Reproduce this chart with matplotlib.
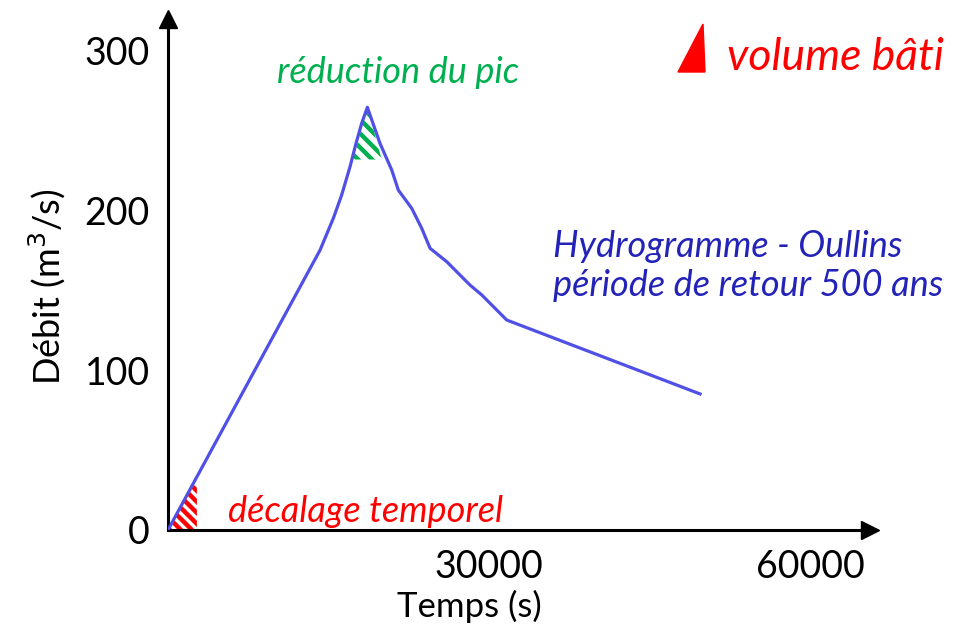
import matplotlib
matplotlib.use("Agg")
import matplotlib.pyplot as plt
import numpy as np
from matplotlib.patches import Polygon
from matplotlib.lines import Line2D
from matplotlib.transforms import IdentityTransform

plt.rcParams['font.family'] = ['Lato', 'DejaVu Sans']

# hydrogramme Oullins, T = 500 ans
temps = [0, 14210, 15450, 16230, 17010, 17570, 18100, 18630, 19810, 20910,
         21520, 22780, 23710, 24490, 26050, 28220, 29320, 31650, 49720]
debit = [0, 175.3, 195.2, 209.8, 227.5, 242.1, 254.7, 264.7, 242.1, 225.4,
         212.9, 201.4, 188.9, 176.4, 168.0, 153.4, 147.2, 131.5, 85.2]

# hatched zones
decalage_t = [0, 2400, 2700, 2700]
decalage_q = [0, 28, 28, 0]
pic_t = [17300, 18630, 19970]
pic_q = [232, 265, 232]

xticks = [30000, 60000]
yticks = [0, 100, 200, 300]

W, H = 979, 631
fig = plt.figure(figsize=(W / 100, H / 100), dpi=100)
ax = fig.add_axes([168 / W, (H - 530) / H, 702 / W, 511 / H])
ax.set_xlim(0, 65600)
ax.set_ylim(0, 320)


def stripes(xs, ys, color, step, lw):
    # diagonal hatching, drawn in pixels and clipped to the zone
    poly = Polygon(np.column_stack([xs, ys]), closed=True,
                   facecolor='none', edgecolor='none')
    ax.add_patch(poly)
    pts = ax.transData.transform(np.column_stack([xs, ys]))
    x0, y0 = pts.min(axis=0) - 6
    x1, y1 = pts.max(axis=0) + 6
    for c in np.arange(x0 + y0 + 3, x1 + y1, step):
        ln = Line2D([x0, x1], [c - x0, c - x1], color=color, lw=lw,
                    solid_capstyle='butt', transform=IdentityTransform())
        ln.set_clip_path(poly)
        ax.add_artist(ln)


stripes(decalage_t, decalage_q, '#FF0000', 11, 3.2)
stripes(pic_t, pic_q, '#00B050', 14, 3.2)

ax.plot(temps, debit, color='#5050E6', lw=2.3, zorder=3)

for s in ['top', 'right']:
    ax.spines[s].set_visible(False)
for s in ['left', 'bottom']:
    ax.spines[s].set_linewidth(2.2)
ax.plot(1, 0, '>', color='k', ms=13, transform=ax.transAxes, clip_on=False)
ax.plot(0, 1, '^', color='k', ms=13, transform=ax.transAxes, clip_on=False)

ax.set_xticks(xticks)
ax.set_xticklabels([str(v) for v in xticks])
ax.set_yticks(yticks)
ax.set_yticklabels([str(v) for v in yticks])
ax.tick_params(axis='x', length=0, pad=14, labelsize=27)
ax.tick_params(axis='y', length=0, pad=13, labelsize=27)

ax.set_xlabel('Temps (s)', fontsize=25)
ax.xaxis.set_label_coords(0.429, -0.118)
ax.set_ylabel(r'Débit (m$^3$/s)', fontsize=26)
ax.yaxis.set_label_coords(-0.142, 0.475)

ax.text(21500, 286.8, 'réduction du pic', color='#00B050', style='italic',
        fontsize=26, ha='center', va='center')
ax.text(5610, 11.3, 'décalage temporel', color='#FF0000', style='italic',
        fontsize=26, ha='left', va='center')
ax.text(36000, 165.3, 'Hydrogramme - Oullins\npériode de retour 500 ans',
        color='#2323B8', style='italic', fontsize=26, ha='left', va='center',
        linespacing=1.2)

ax.set_xlim(0, 65600)
ax.set_ylim(0, 320)

# "volume bâti" with the red wedge
fig.patches.append(Polygon([(678, H - 72), (705, H - 72), (703, H - 24)],
                           closed=True, color='#FF0000', transform=None))
fig.text(727 / W, (H - 57) / H, 'volume bâti', color='#FF0000',
         style='italic', fontsize=32, ha='left', va='center')

fig.savefig('out.png', dpi=100)
